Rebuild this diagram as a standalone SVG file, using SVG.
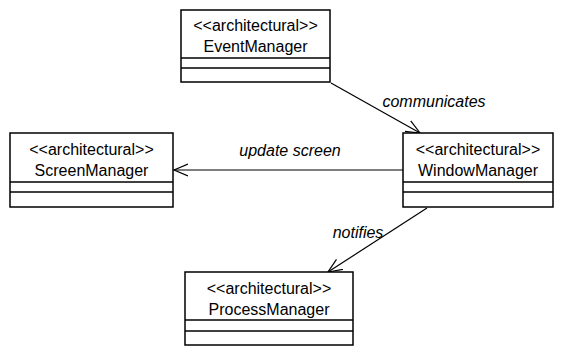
<svg xmlns="http://www.w3.org/2000/svg" width="564" height="347" viewBox="0 0 564 347">
<defs>
<style>
.box{fill:#fff;stroke:#000;stroke-width:1.5}
.sep{stroke:#000;stroke-width:1.4}
.t{font-family:"Liberation Sans",Arial,sans-serif;font-size:16px;text-anchor:middle;fill:#000}
.lbl{font-family:"Liberation Sans",Arial,sans-serif;font-size:16px;font-style:italic;text-anchor:middle;fill:#000}
.edge{stroke:#000;stroke-width:1.2;fill:none}
</style>
<marker id="open" markerWidth="16" markerHeight="14" refX="14" refY="7" orient="auto" markerUnits="userSpaceOnUse">
<path d="M0,1 L14,7 L0,13" fill="none" stroke="#000" stroke-width="1.2"/>
</marker>
</defs>
<rect width="564" height="347" fill="#fff"/>
<g id="connectors">
<line class="edge" x1="331" y1="83" x2="420" y2="133" marker-end="url(#open)"/>
<line class="edge" x1="403" y1="170" x2="174" y2="170" marker-end="url(#open)"/>
<line class="edge" x1="427" y1="208" x2="328" y2="272" marker-end="url(#open)"/>
<text class="lbl" x="434" y="107">communicates</text>
<text class="lbl" x="290" y="156">update screen</text>
<text class="lbl" x="358" y="238">notifies</text>
</g>
<g id="EventManager">
<rect class="box" x="181" y="10" width="149" height="72"/>
<line class="sep" x1="181" y1="58" x2="330" y2="58"/>
<line class="sep" x1="181" y1="68" x2="330" y2="68"/>
<text class="t" x="255.5" y="31">&lt;&lt;architectural&gt;&gt;</text>
<text class="t" x="255.5" y="52">EventManager</text>
</g>
<g id="ScreenManager">
<rect class="box" x="10" y="133" width="163" height="74"/>
<line class="sep" x1="10" y1="182" x2="173" y2="182"/>
<line class="sep" x1="10" y1="192" x2="173" y2="192"/>
<text class="t" x="91.5" y="155">&lt;&lt;architectural&gt;&gt;</text>
<text class="t" x="91.5" y="176">ScreenManager</text>
</g>
<g id="WindowManager">
<rect class="box" x="403" y="133" width="150" height="74"/>
<line class="sep" x1="403" y1="182" x2="553" y2="182"/>
<line class="sep" x1="403" y1="192" x2="553" y2="192"/>
<text class="t" x="478" y="155">&lt;&lt;architectural&gt;&gt;</text>
<text class="t" x="478" y="176">WindowManager</text>
</g>
<g id="ProcessManager">
<rect class="box" x="185" y="272" width="168" height="73"/>
<line class="sep" x1="185" y1="320" x2="353" y2="320"/>
<line class="sep" x1="185" y1="331" x2="353" y2="331"/>
<text class="t" x="269" y="294">&lt;&lt;architectural&gt;&gt;</text>
<text class="t" x="269" y="315">ProcessManager</text>
</g>
</svg>
